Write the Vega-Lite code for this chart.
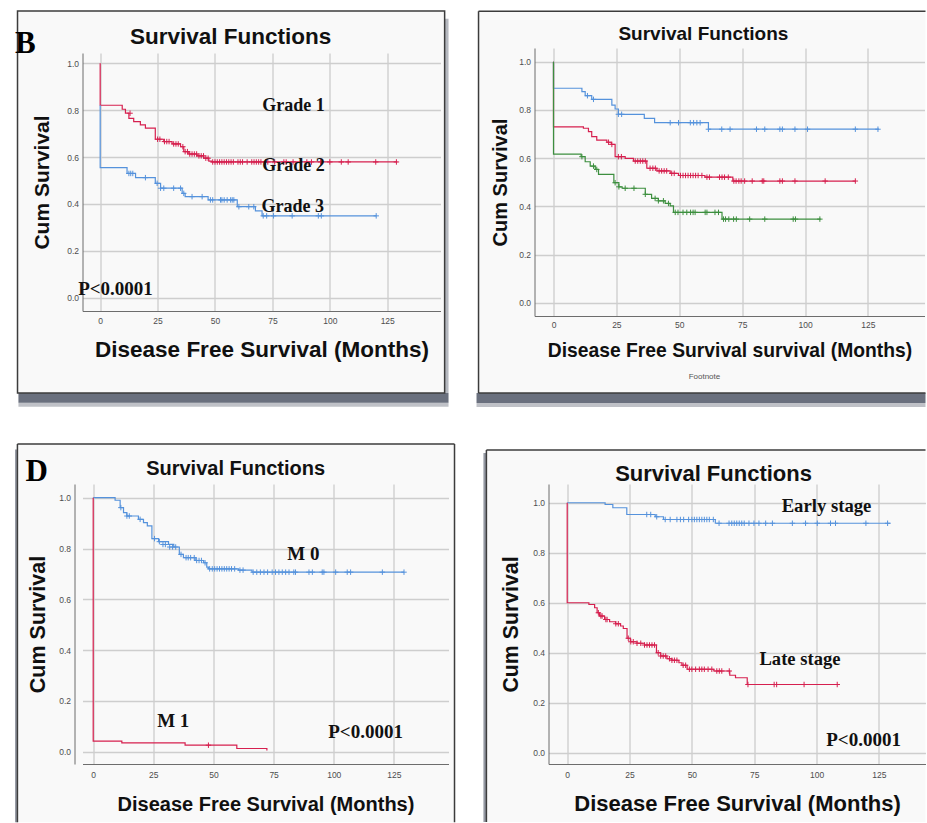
{
"$schema":"https://vega.github.io/schema/vega-lite/v6.json",
"padding":{"left":14.5,"top":10,"right":0,"bottom":0},
"background":"white",
"config":{"view":{"stroke":null},
"axis":{"labelFont":"Liberation Sans","labelFontSize":8.5,"labelColor":"#505050","titleFont":"Liberation Sans","titleFontWeight":"bold","titleColor":"#111111","domainColor":"#707070","domainWidth":1,"grid":true,"gridColor":"#d3d3d3","gridWidth":1.3,"ticks":false,"labelPadding":4,"labelFlush":false}},
"datasets":{
"km":[
{"p":"B","g":"Grade 2","t":0,"s":1},{"p":"B","g":"Grade 2","t":0,"s":0.821},{"p":"B","g":"Grade 2","t":9.6,"s":0.804},{"p":"B","g":"Grade 2","t":11,"s":0.787},{"p":"B","g":"Grade 2","t":12.5,"s":0.765},{"p":"B","g":"Grade 2","t":14.6,"s":0.751},{"p":"B","g":"Grade 2","t":17.5,"s":0.737},{"p":"B","g":"Grade 2","t":19.7,"s":0.723},{"p":"B","g":"Grade 2","t":24,"s":0.676},{"p":"B","g":"Grade 2","t":27.7,"s":0.666},{"p":"B","g":"Grade 2","t":31.3,"s":0.656},{"p":"B","g":"Grade 2","t":35,"s":0.644},{"p":"B","g":"Grade 2","t":36.4,"s":0.623},{"p":"B","g":"Grade 2","t":38.6,"s":0.613},{"p":"B","g":"Grade 2","t":42.2,"s":0.605},{"p":"B","g":"Grade 2","t":45.1,"s":0.595},{"p":"B","g":"Grade 2","t":47.3,"s":0.583},{"p":"B","g":"Grade 2","t":48.5,"s":0.579},{"p":"B","g":"Grade 2","t":129.4,"s":0.579},
{"p":"B","g":"Grade 3","t":0,"s":0.821},{"p":"B","g":"Grade 3","t":0,"s":0.555},{"p":"B","g":"Grade 3","t":11.7,"s":0.53},{"p":"B","g":"Grade 3","t":15.4,"s":0.512},{"p":"B","g":"Grade 3","t":24,"s":0.488},{"p":"B","g":"Grade 3","t":26.3,"s":0.467},{"p":"B","g":"Grade 3","t":35.7,"s":0.445},{"p":"B","g":"Grade 3","t":37,"s":0.431},{"p":"B","g":"Grade 3","t":47,"s":0.417},{"p":"B","g":"Grade 3","t":59.7,"s":0.388},{"p":"B","g":"Grade 3","t":67.6,"s":0.37},{"p":"B","g":"Grade 3","t":70.5,"s":0.349},{"p":"B","g":"Grade 3","t":120.2,"s":0.349},
{"p":"C","g":"Group 1","t":0,"s":1},{"p":"C","g":"Group 1","t":0,"s":0.89},{"p":"C","g":"Group 1","t":11.3,"s":0.876},{"p":"C","g":"Group 1","t":12.6,"s":0.859},{"p":"C","g":"Group 1","t":15.2,"s":0.844},{"p":"C","g":"Group 1","t":23.2,"s":0.82},{"p":"C","g":"Group 1","t":24.5,"s":0.804},{"p":"C","g":"Group 1","t":25.8,"s":0.782},{"p":"C","g":"Group 1","t":36.1,"s":0.765},{"p":"C","g":"Group 1","t":40.2,"s":0.747},{"p":"C","g":"Group 1","t":61.6,"s":0.72},{"p":"C","g":"Group 1","t":129.4,"s":0.72},
{"p":"C","g":"Group 2","t":0,"s":1},{"p":"C","g":"Group 2","t":0,"s":0.73},{"p":"C","g":"Group 2","t":11.9,"s":0.724},{"p":"C","g":"Group 2","t":13.9,"s":0.71},{"p":"C","g":"Group 2","t":15.2,"s":0.689},{"p":"C","g":"Group 2","t":17.2,"s":0.675},{"p":"C","g":"Group 2","t":21.2,"s":0.666},{"p":"C","g":"Group 2","t":23,"s":0.657},{"p":"C","g":"Group 2","t":24.5,"s":0.606},{"p":"C","g":"Group 2","t":28.5,"s":0.599},{"p":"C","g":"Group 2","t":31.8,"s":0.588},{"p":"C","g":"Group 2","t":37.1,"s":0.558},{"p":"C","g":"Group 2","t":41.1,"s":0.547},{"p":"C","g":"Group 2","t":46.4,"s":0.537},{"p":"C","g":"Group 2","t":49.7,"s":0.528},{"p":"C","g":"Group 2","t":60.2,"s":0.521},{"p":"C","g":"Group 2","t":71.3,"s":0.505},{"p":"C","g":"Group 2","t":120,"s":0.505},
{"p":"C","g":"Group 3","t":0,"s":1},{"p":"C","g":"Group 3","t":0,"s":0.617},{"p":"C","g":"Group 3","t":11,"s":0.606},{"p":"C","g":"Group 3","t":12.6,"s":0.585},{"p":"C","g":"Group 3","t":14.6,"s":0.567},{"p":"C","g":"Group 3","t":16.6,"s":0.553},{"p":"C","g":"Group 3","t":17.9,"s":0.533},{"p":"C","g":"Group 3","t":24,"s":0.498},{"p":"C","g":"Group 3","t":26,"s":0.481},{"p":"C","g":"Group 3","t":27.3,"s":0.475},{"p":"C","g":"Group 3","t":36.5,"s":0.45},{"p":"C","g":"Group 3","t":39,"s":0.433},{"p":"C","g":"Group 3","t":41.7,"s":0.423},{"p":"C","g":"Group 3","t":44.4,"s":0.412},{"p":"C","g":"Group 3","t":46.4,"s":0.402},{"p":"C","g":"Group 3","t":47.7,"s":0.375},{"p":"C","g":"Group 3","t":67,"s":0.347},{"p":"C","g":"Group 3","t":106.2,"s":0.347},
{"p":"D","g":"M 0","t":0,"s":1},{"p":"D","g":"M 0","t":9.1,"s":0.99},{"p":"D","g":"M 0","t":11.2,"s":0.961},{"p":"D","g":"M 0","t":12.6,"s":0.941},{"p":"D","g":"M 0","t":14,"s":0.928},{"p":"D","g":"M 0","t":18.8,"s":0.915},{"p":"D","g":"M 0","t":20.9,"s":0.902},{"p":"D","g":"M 0","t":22.5,"s":0.889},{"p":"D","g":"M 0","t":24.4,"s":0.839},{"p":"D","g":"M 0","t":27.2,"s":0.827},{"p":"D","g":"M 0","t":31.3,"s":0.816},{"p":"D","g":"M 0","t":33.5,"s":0.806},{"p":"D","g":"M 0","t":35.8,"s":0.777},{"p":"D","g":"M 0","t":37.5,"s":0.764},{"p":"D","g":"M 0","t":42.4,"s":0.753},{"p":"D","g":"M 0","t":45.9,"s":0.744},{"p":"D","g":"M 0","t":47.2,"s":0.727},{"p":"D","g":"M 0","t":47.9,"s":0.72},{"p":"D","g":"M 0","t":60.4,"s":0.715},{"p":"D","g":"M 0","t":66,"s":0.707},{"p":"D","g":"M 0","t":129.2,"s":0.707},
{"p":"D","g":"M 1","t":0,"s":1},{"p":"D","g":"M 1","t":0,"s":0.042},{"p":"D","g":"M 1","t":11.9,"s":0.035},{"p":"D","g":"M 1","t":38.2,"s":0.026},{"p":"D","g":"M 1","t":59.7,"s":0.013},{"p":"D","g":"M 1","t":72.2,"s":0.005},
{"p":"E","g":"Early stage","t":0,"s":1},{"p":"E","g":"Early stage","t":15.2,"s":0.993},{"p":"E","g":"Early stage","t":18.3,"s":0.98},{"p":"E","g":"Early stage","t":23.9,"s":0.953},{"p":"E","g":"Early stage","t":35.3,"s":0.944},{"p":"E","g":"Early stage","t":38.6,"s":0.933},{"p":"E","g":"Early stage","t":59.4,"s":0.918},{"p":"E","g":"Early stage","t":129.7,"s":0.918},
{"p":"E","g":"Late stage","t":0,"s":1},{"p":"E","g":"Late stage","t":0,"s":0.6},{"p":"E","g":"Late stage","t":8.7,"s":0.593},{"p":"E","g":"Late stage","t":11,"s":0.58},{"p":"E","g":"Late stage","t":12,"s":0.56},{"p":"E","g":"Late stage","t":13,"s":0.547},{"p":"E","g":"Late stage","t":15,"s":0.533},{"p":"E","g":"Late stage","t":17,"s":0.524},{"p":"E","g":"Late stage","t":19.4,"s":0.516},{"p":"E","g":"Late stage","t":21.4,"s":0.507},{"p":"E","g":"Late stage","t":22.5,"s":0.497},{"p":"E","g":"Late stage","t":24,"s":0.458},{"p":"E","g":"Late stage","t":25.4,"s":0.444},{"p":"E","g":"Late stage","t":28,"s":0.438},{"p":"E","g":"Late stage","t":31,"s":0.431},{"p":"E","g":"Late stage","t":35.8,"s":0.4},{"p":"E","g":"Late stage","t":37.5,"s":0.387},{"p":"E","g":"Late stage","t":40,"s":0.376},{"p":"E","g":"Late stage","t":42,"s":0.37},{"p":"E","g":"Late stage","t":44.8,"s":0.36},{"p":"E","g":"Late stage","t":46,"s":0.35},{"p":"E","g":"Late stage","t":48.1,"s":0.334},{"p":"E","g":"Late stage","t":58.8,"s":0.327},{"p":"E","g":"Late stage","t":65.2,"s":0.31},{"p":"E","g":"Late stage","t":67.5,"s":0.3},{"p":"E","g":"Late stage","t":72.2,"s":0.273},{"p":"E","g":"Late stage","t":108.3,"s":0.273}
],
"cens":[
{"p":"B","g":"Grade 2","t":13,"s":0.787},{"p":"B","g":"Grade 2","t":25,"s":0.676},{"p":"B","g":"Grade 2","t":26,"s":0.676},{"p":"B","g":"Grade 2","t":28,"s":0.666},{"p":"B","g":"Grade 2","t":29,"s":0.666},{"p":"B","g":"Grade 2","t":30,"s":0.666},{"p":"B","g":"Grade 2","t":32,"s":0.656},{"p":"B","g":"Grade 2","t":33,"s":0.656},{"p":"B","g":"Grade 2","t":34,"s":0.656},{"p":"B","g":"Grade 2","t":36,"s":0.644},{"p":"B","g":"Grade 2","t":37,"s":0.623},{"p":"B","g":"Grade 2","t":38,"s":0.623},{"p":"B","g":"Grade 2","t":39,"s":0.613},{"p":"B","g":"Grade 2","t":40,"s":0.613},{"p":"B","g":"Grade 2","t":41,"s":0.613},{"p":"B","g":"Grade 2","t":42,"s":0.613},{"p":"B","g":"Grade 2","t":43,"s":0.605},{"p":"B","g":"Grade 2","t":44,"s":0.605},{"p":"B","g":"Grade 2","t":45,"s":0.605},{"p":"B","g":"Grade 2","t":46,"s":0.595},{"p":"B","g":"Grade 2","t":47,"s":0.595},{"p":"B","g":"Grade 2","t":49,"s":0.579},{"p":"B","g":"Grade 2","t":50,"s":0.579},{"p":"B","g":"Grade 2","t":51,"s":0.579},{"p":"B","g":"Grade 2","t":52,"s":0.579},{"p":"B","g":"Grade 2","t":53,"s":0.579},{"p":"B","g":"Grade 2","t":54,"s":0.579},{"p":"B","g":"Grade 2","t":55,"s":0.579},{"p":"B","g":"Grade 2","t":56,"s":0.579},{"p":"B","g":"Grade 2","t":57,"s":0.579},{"p":"B","g":"Grade 2","t":58,"s":0.579},{"p":"B","g":"Grade 2","t":60,"s":0.579},{"p":"B","g":"Grade 2","t":61,"s":0.579},{"p":"B","g":"Grade 2","t":62,"s":0.579},{"p":"B","g":"Grade 2","t":64,"s":0.579},{"p":"B","g":"Grade 2","t":66,"s":0.579},{"p":"B","g":"Grade 2","t":67,"s":0.579},{"p":"B","g":"Grade 2","t":68,"s":0.579},{"p":"B","g":"Grade 2","t":69,"s":0.579},{"p":"B","g":"Grade 2","t":70,"s":0.579},{"p":"B","g":"Grade 2","t":72,"s":0.579},{"p":"B","g":"Grade 2","t":73,"s":0.579},{"p":"B","g":"Grade 2","t":76,"s":0.579},{"p":"B","g":"Grade 2","t":80,"s":0.579},{"p":"B","g":"Grade 2","t":81,"s":0.579},{"p":"B","g":"Grade 2","t":84,"s":0.579},{"p":"B","g":"Grade 2","t":90,"s":0.579},{"p":"B","g":"Grade 2","t":92,"s":0.579},{"p":"B","g":"Grade 2","t":96,"s":0.579},{"p":"B","g":"Grade 2","t":100,"s":0.579},{"p":"B","g":"Grade 2","t":105,"s":0.579},{"p":"B","g":"Grade 2","t":108,"s":0.579},{"p":"B","g":"Grade 2","t":120,"s":0.579},{"p":"B","g":"Grade 2","t":129,"s":0.579},
{"p":"B","g":"Grade 3","t":12.5,"s":0.53},{"p":"B","g":"Grade 3","t":13.3,"s":0.53},{"p":"B","g":"Grade 3","t":14.2,"s":0.53},{"p":"B","g":"Grade 3","t":19.7,"s":0.512},{"p":"B","g":"Grade 3","t":24.8,"s":0.488},{"p":"B","g":"Grade 3","t":26.3,"s":0.467},{"p":"B","g":"Grade 3","t":27.7,"s":0.467},{"p":"B","g":"Grade 3","t":32,"s":0.467},{"p":"B","g":"Grade 3","t":35,"s":0.467},{"p":"B","g":"Grade 3","t":36.4,"s":0.445},{"p":"B","g":"Grade 3","t":40,"s":0.431},{"p":"B","g":"Grade 3","t":44.4,"s":0.431},{"p":"B","g":"Grade 3","t":48,"s":0.417},{"p":"B","g":"Grade 3","t":49,"s":0.417},{"p":"B","g":"Grade 3","t":52.4,"s":0.417},{"p":"B","g":"Grade 3","t":53,"s":0.417},{"p":"B","g":"Grade 3","t":54,"s":0.417},{"p":"B","g":"Grade 3","t":55.3,"s":0.417},{"p":"B","g":"Grade 3","t":56.8,"s":0.417},{"p":"B","g":"Grade 3","t":57.5,"s":0.417},{"p":"B","g":"Grade 3","t":58.2,"s":0.417},{"p":"B","g":"Grade 3","t":60.4,"s":0.388},{"p":"B","g":"Grade 3","t":64.7,"s":0.388},{"p":"B","g":"Grade 3","t":66.9,"s":0.388},{"p":"B","g":"Grade 3","t":71,"s":0.349},{"p":"B","g":"Grade 3","t":72.5,"s":0.349},{"p":"B","g":"Grade 3","t":75.5,"s":0.349},{"p":"B","g":"Grade 3","t":83.6,"s":0.349},{"p":"B","g":"Grade 3","t":95,"s":0.349},{"p":"B","g":"Grade 3","t":96.3,"s":0.349},{"p":"B","g":"Grade 3","t":120.2,"s":0.349},
{"p":"C","g":"Group 1","t":13.5,"s":0.859},{"p":"C","g":"Group 1","t":15.9,"s":0.844},{"p":"C","g":"Group 1","t":25.8,"s":0.782},{"p":"C","g":"Group 1","t":27.1,"s":0.782},{"p":"C","g":"Group 1","t":46.4,"s":0.747},{"p":"C","g":"Group 1","t":49.7,"s":0.747},{"p":"C","g":"Group 1","t":54.4,"s":0.747},{"p":"C","g":"Group 1","t":55.7,"s":0.747},{"p":"C","g":"Group 1","t":57,"s":0.747},{"p":"C","g":"Group 1","t":58.3,"s":0.747},{"p":"C","g":"Group 1","t":61.6,"s":0.72},{"p":"C","g":"Group 1","t":66.9,"s":0.72},{"p":"C","g":"Group 1","t":70.2,"s":0.72},{"p":"C","g":"Group 1","t":80.7,"s":0.72},{"p":"C","g":"Group 1","t":84,"s":0.72},{"p":"C","g":"Group 1","t":90,"s":0.72},{"p":"C","g":"Group 1","t":91,"s":0.72},{"p":"C","g":"Group 1","t":96,"s":0.72},{"p":"C","g":"Group 1","t":101,"s":0.72},{"p":"C","g":"Group 1","t":120,"s":0.72},{"p":"C","g":"Group 1","t":129,"s":0.72},
{"p":"C","g":"Group 2","t":21.9,"s":0.666},{"p":"C","g":"Group 2","t":23.2,"s":0.657},{"p":"C","g":"Group 2","t":25.8,"s":0.606},{"p":"C","g":"Group 2","t":27,"s":0.606},{"p":"C","g":"Group 2","t":32.5,"s":0.588},{"p":"C","g":"Group 2","t":33.5,"s":0.588},{"p":"C","g":"Group 2","t":34.5,"s":0.588},{"p":"C","g":"Group 2","t":35.5,"s":0.588},{"p":"C","g":"Group 2","t":36.5,"s":0.588},{"p":"C","g":"Group 2","t":38.4,"s":0.558},{"p":"C","g":"Group 2","t":39.5,"s":0.558},{"p":"C","g":"Group 2","t":40.5,"s":0.558},{"p":"C","g":"Group 2","t":42,"s":0.547},{"p":"C","g":"Group 2","t":43,"s":0.547},{"p":"C","g":"Group 2","t":44,"s":0.547},{"p":"C","g":"Group 2","t":45,"s":0.547},{"p":"C","g":"Group 2","t":47,"s":0.537},{"p":"C","g":"Group 2","t":48,"s":0.537},{"p":"C","g":"Group 2","t":50.5,"s":0.528},{"p":"C","g":"Group 2","t":51.5,"s":0.528},{"p":"C","g":"Group 2","t":52.5,"s":0.528},{"p":"C","g":"Group 2","t":53.5,"s":0.528},{"p":"C","g":"Group 2","t":54.5,"s":0.528},{"p":"C","g":"Group 2","t":55.5,"s":0.528},{"p":"C","g":"Group 2","t":56.5,"s":0.528},{"p":"C","g":"Group 2","t":57.5,"s":0.528},{"p":"C","g":"Group 2","t":59,"s":0.528},{"p":"C","g":"Group 2","t":61,"s":0.521},{"p":"C","g":"Group 2","t":62,"s":0.521},{"p":"C","g":"Group 2","t":66,"s":0.521},{"p":"C","g":"Group 2","t":67,"s":0.521},{"p":"C","g":"Group 2","t":68,"s":0.521},{"p":"C","g":"Group 2","t":69.5,"s":0.521},{"p":"C","g":"Group 2","t":71.7,"s":0.505},{"p":"C","g":"Group 2","t":72.6,"s":0.505},{"p":"C","g":"Group 2","t":73.7,"s":0.505},{"p":"C","g":"Group 2","t":74.6,"s":0.505},{"p":"C","g":"Group 2","t":76,"s":0.505},{"p":"C","g":"Group 2","t":79,"s":0.505},{"p":"C","g":"Group 2","t":83,"s":0.505},{"p":"C","g":"Group 2","t":83.6,"s":0.505},{"p":"C","g":"Group 2","t":90,"s":0.505},{"p":"C","g":"Group 2","t":91,"s":0.505},{"p":"C","g":"Group 2","t":96,"s":0.505},{"p":"C","g":"Group 2","t":108,"s":0.505},{"p":"C","g":"Group 2","t":120,"s":0.505},
{"p":"C","g":"Group 3","t":11.3,"s":0.606},{"p":"C","g":"Group 3","t":15.9,"s":0.567},{"p":"C","g":"Group 3","t":17.2,"s":0.553},{"p":"C","g":"Group 3","t":24.5,"s":0.498},{"p":"C","g":"Group 3","t":26,"s":0.481},{"p":"C","g":"Group 3","t":28.5,"s":0.475},{"p":"C","g":"Group 3","t":32,"s":0.475},{"p":"C","g":"Group 3","t":36.5,"s":0.45},{"p":"C","g":"Group 3","t":40.4,"s":0.433},{"p":"C","g":"Group 3","t":41.7,"s":0.423},{"p":"C","g":"Group 3","t":43.7,"s":0.423},{"p":"C","g":"Group 3","t":45.7,"s":0.412},{"p":"C","g":"Group 3","t":48.4,"s":0.375},{"p":"C","g":"Group 3","t":49.5,"s":0.375},{"p":"C","g":"Group 3","t":51.5,"s":0.375},{"p":"C","g":"Group 3","t":53,"s":0.375},{"p":"C","g":"Group 3","t":54.5,"s":0.375},{"p":"C","g":"Group 3","t":55.5,"s":0.375},{"p":"C","g":"Group 3","t":56.3,"s":0.375},{"p":"C","g":"Group 3","t":60.3,"s":0.375},{"p":"C","g":"Group 3","t":61,"s":0.375},{"p":"C","g":"Group 3","t":64.2,"s":0.375},{"p":"C","g":"Group 3","t":65.6,"s":0.375},{"p":"C","g":"Group 3","t":67.6,"s":0.347},{"p":"C","g":"Group 3","t":68.4,"s":0.347},{"p":"C","g":"Group 3","t":69.7,"s":0.347},{"p":"C","g":"Group 3","t":71.6,"s":0.347},{"p":"C","g":"Group 3","t":72.7,"s":0.347},{"p":"C","g":"Group 3","t":78,"s":0.347},{"p":"C","g":"Group 3","t":84,"s":0.347},{"p":"C","g":"Group 3","t":95.3,"s":0.347},{"p":"C","g":"Group 3","t":96.2,"s":0.347},{"p":"C","g":"Group 3","t":105.9,"s":0.347},
{"p":"D","g":"M 0","t":11.5,"s":0.961},{"p":"D","g":"M 0","t":14,"s":0.928},{"p":"D","g":"M 0","t":15,"s":0.928},{"p":"D","g":"M 0","t":19.5,"s":0.915},{"p":"D","g":"M 0","t":25.5,"s":0.839},{"p":"D","g":"M 0","t":27.5,"s":0.827},{"p":"D","g":"M 0","t":29,"s":0.816},{"p":"D","g":"M 0","t":30,"s":0.816},{"p":"D","g":"M 0","t":31.8,"s":0.806},{"p":"D","g":"M 0","t":33,"s":0.806},{"p":"D","g":"M 0","t":34.3,"s":0.806},{"p":"D","g":"M 0","t":36.5,"s":0.777},{"p":"D","g":"M 0","t":38.6,"s":0.764},{"p":"D","g":"M 0","t":39.5,"s":0.764},{"p":"D","g":"M 0","t":40.5,"s":0.764},{"p":"D","g":"M 0","t":42,"s":0.764},{"p":"D","g":"M 0","t":43,"s":0.753},{"p":"D","g":"M 0","t":44,"s":0.753},{"p":"D","g":"M 0","t":45,"s":0.753},{"p":"D","g":"M 0","t":46.5,"s":0.744},{"p":"D","g":"M 0","t":48.4,"s":0.72},{"p":"D","g":"M 0","t":49.5,"s":0.72},{"p":"D","g":"M 0","t":50.5,"s":0.72},{"p":"D","g":"M 0","t":51.5,"s":0.72},{"p":"D","g":"M 0","t":52.5,"s":0.72},{"p":"D","g":"M 0","t":53.5,"s":0.72},{"p":"D","g":"M 0","t":54.5,"s":0.72},{"p":"D","g":"M 0","t":55.5,"s":0.72},{"p":"D","g":"M 0","t":56.5,"s":0.72},{"p":"D","g":"M 0","t":57.5,"s":0.72},{"p":"D","g":"M 0","t":58.8,"s":0.72},{"p":"D","g":"M 0","t":61,"s":0.715},{"p":"D","g":"M 0","t":62.3,"s":0.715},{"p":"D","g":"M 0","t":66.5,"s":0.707},{"p":"D","g":"M 0","t":68,"s":0.707},{"p":"D","g":"M 0","t":69.5,"s":0.707},{"p":"D","g":"M 0","t":71,"s":0.707},{"p":"D","g":"M 0","t":72.5,"s":0.707},{"p":"D","g":"M 0","t":74.4,"s":0.707},{"p":"D","g":"M 0","t":75.8,"s":0.707},{"p":"D","g":"M 0","t":77.2,"s":0.707},{"p":"D","g":"M 0","t":78.6,"s":0.707},{"p":"D","g":"M 0","t":80,"s":0.707},{"p":"D","g":"M 0","t":81.4,"s":0.707},{"p":"D","g":"M 0","t":83.4,"s":0.707},{"p":"D","g":"M 0","t":84.1,"s":0.707},{"p":"D","g":"M 0","t":89.7,"s":0.707},{"p":"D","g":"M 0","t":91.1,"s":0.707},{"p":"D","g":"M 0","t":95.2,"s":0.707},{"p":"D","g":"M 0","t":95.9,"s":0.707},{"p":"D","g":"M 0","t":100.8,"s":0.707},{"p":"D","g":"M 0","t":105.6,"s":0.707},{"p":"D","g":"M 0","t":107,"s":0.707},{"p":"D","g":"M 0","t":120.2,"s":0.707},{"p":"D","g":"M 0","t":129.2,"s":0.707},
{"p":"D","g":"M 1","t":47.9,"s":0.026},
{"p":"E","g":"Early stage","t":31.9,"s":0.953},{"p":"E","g":"Early stage","t":33.5,"s":0.953},{"p":"E","g":"Early stage","t":35.9,"s":0.944},{"p":"E","g":"Early stage","t":39.3,"s":0.933},{"p":"E","g":"Early stage","t":41.3,"s":0.933},{"p":"E","g":"Early stage","t":44,"s":0.933},{"p":"E","g":"Early stage","t":45.4,"s":0.933},{"p":"E","g":"Early stage","t":46.7,"s":0.933},{"p":"E","g":"Early stage","t":48.7,"s":0.933},{"p":"E","g":"Early stage","t":50,"s":0.933},{"p":"E","g":"Early stage","t":51,"s":0.933},{"p":"E","g":"Early stage","t":52,"s":0.933},{"p":"E","g":"Early stage","t":53,"s":0.933},{"p":"E","g":"Early stage","t":54,"s":0.933},{"p":"E","g":"Early stage","t":55,"s":0.933},{"p":"E","g":"Early stage","t":56,"s":0.933},{"p":"E","g":"Early stage","t":57,"s":0.933},{"p":"E","g":"Early stage","t":58.6,"s":0.933},{"p":"E","g":"Early stage","t":60.9,"s":0.918},{"p":"E","g":"Early stage","t":64.9,"s":0.918},{"p":"E","g":"Early stage","t":66,"s":0.918},{"p":"E","g":"Early stage","t":67,"s":0.918},{"p":"E","g":"Early stage","t":68,"s":0.918},{"p":"E","g":"Early stage","t":69,"s":0.918},{"p":"E","g":"Early stage","t":70,"s":0.918},{"p":"E","g":"Early stage","t":71,"s":0.918},{"p":"E","g":"Early stage","t":72.9,"s":0.918},{"p":"E","g":"Early stage","t":74.9,"s":0.918},{"p":"E","g":"Early stage","t":76.9,"s":0.918},{"p":"E","g":"Early stage","t":79.6,"s":0.918},{"p":"E","g":"Early stage","t":82.3,"s":0.918},{"p":"E","g":"Early stage","t":90.3,"s":0.918},{"p":"E","g":"Early stage","t":95.6,"s":0.918},{"p":"E","g":"Early stage","t":100.3,"s":0.918},{"p":"E","g":"Early stage","t":105.6,"s":0.918},{"p":"E","g":"Early stage","t":107.6,"s":0.918},{"p":"E","g":"Early stage","t":119.8,"s":0.918},{"p":"E","g":"Early stage","t":128.5,"s":0.918},
{"p":"E","g":"Late stage","t":12.5,"s":0.56},{"p":"E","g":"Late stage","t":13.5,"s":0.547},{"p":"E","g":"Late stage","t":14,"s":0.547},{"p":"E","g":"Late stage","t":15.5,"s":0.533},{"p":"E","g":"Late stage","t":16,"s":0.533},{"p":"E","g":"Late stage","t":19.5,"s":0.516},{"p":"E","g":"Late stage","t":20.5,"s":0.516},{"p":"E","g":"Late stage","t":24.5,"s":0.458},{"p":"E","g":"Late stage","t":25.5,"s":0.444},{"p":"E","g":"Late stage","t":26.5,"s":0.444},{"p":"E","g":"Late stage","t":28,"s":0.438},{"p":"E","g":"Late stage","t":29.5,"s":0.438},{"p":"E","g":"Late stage","t":31,"s":0.431},{"p":"E","g":"Late stage","t":32,"s":0.431},{"p":"E","g":"Late stage","t":33,"s":0.431},{"p":"E","g":"Late stage","t":34,"s":0.431},{"p":"E","g":"Late stage","t":35,"s":0.431},{"p":"E","g":"Late stage","t":36.5,"s":0.4},{"p":"E","g":"Late stage","t":37.5,"s":0.387},{"p":"E","g":"Late stage","t":38.5,"s":0.387},{"p":"E","g":"Late stage","t":39.5,"s":0.387},{"p":"E","g":"Late stage","t":41,"s":0.376},{"p":"E","g":"Late stage","t":42,"s":0.37},{"p":"E","g":"Late stage","t":43,"s":0.37},{"p":"E","g":"Late stage","t":44,"s":0.37},{"p":"E","g":"Late stage","t":46.5,"s":0.35},{"p":"E","g":"Late stage","t":47.5,"s":0.35},{"p":"E","g":"Late stage","t":49,"s":0.334},{"p":"E","g":"Late stage","t":50,"s":0.334},{"p":"E","g":"Late stage","t":51.5,"s":0.334},{"p":"E","g":"Late stage","t":53,"s":0.334},{"p":"E","g":"Late stage","t":54,"s":0.334},{"p":"E","g":"Late stage","t":55,"s":0.334},{"p":"E","g":"Late stage","t":56.5,"s":0.334},{"p":"E","g":"Late stage","t":58,"s":0.334},{"p":"E","g":"Late stage","t":60,"s":0.327},{"p":"E","g":"Late stage","t":61,"s":0.327},{"p":"E","g":"Late stage","t":62,"s":0.327},{"p":"E","g":"Late stage","t":65,"s":0.327},{"p":"E","g":"Late stage","t":72.5,"s":0.273},{"p":"E","g":"Late stage","t":83,"s":0.273},{"p":"E","g":"Late stage","t":84,"s":0.273},{"p":"E","g":"Late stage","t":95,"s":0.273},{"p":"E","g":"Late stage","t":108.3,"s":0.273}
]},
"spacing":35,
"bounds":"full",
"resolve":{"scale":{"x":"independent","y":"independent","color":"independent"}},
"vconcat":[
{"hconcat":[
{"width":358,"height":258,
"layer":[
{"data":{"name":"km"},"transform":[{"filter":"datum.p==='B'"}],"mark":{"type":"line","interpolate":"step-after","strokeWidth":1.2,"opacity":0},"encoding":{
"x":{"field":"t","type":"quantitative","scale":{"domain":[-7.7,148.2],"nice":false,"zero":false},"axis":{"values":[0,25,50,75,100,125],"title":"Disease Free Survival (Months)","titleFontSize":22.5,"titlePadding":14,"labelPadding":5}},
"y":{"field":"s","type":"quantitative","scale":{"domain":[-0.057,1.044],"nice":false,"zero":false},"axis":{"values":[0,0.2,0.4,0.6,0.8,1],"format":".1f","title":"Cum Survival","titleFontSize":21,"titlePadding":14}},
"color":{"field":"g","type":"nominal","scale":{"domain":["Grade 2","Grade 3"],"range":["#d6204f","#5592dc"]},"legend":null},"order":{"value":null}}},
{"data":{"values":[{}]},"mark":{"type":"rect","fill":"#2b3347","opacity":0.7},"encoding":{"x":{"datum":-35.6},"x2":{"datum":151.7},"y":{"datum":-0.407},"y2":{"datum":-0.449}}},
{"data":{"values":[{}]},"mark":{"type":"rect","fill":"#2b3347","opacity":0.3},"encoding":{"x":{"datum":-35.6},"x2":{"datum":151.7},"y":{"datum":-0.449},"y2":{"datum":-0.466}}},
{"data":{"values":[{}]},"mark":{"type":"rect","fill":"#2b3347","opacity":0.35},"encoding":{"x":{"datum":150},"x2":{"datum":151.7},"y":{"datum":1.19},"y2":{"datum":-0.407}}},
{"data":{"values":[{}]},"mark":{"type":"rect","fill":"#000000","fillOpacity":0.022,"stroke":"#3c3c3c","strokeWidth":1.5},"encoding":{"x":{"datum":-36},"x2":{"datum":150},"y":{"datum":1.223},"y2":{"datum":-0.407}}},
{"data":{"values":[{}]},"mark":{"type":"text","text":"Survival Functions","align":"center","baseline":"middle","font":"Liberation Sans","fontWeight":"bold","fontSize":22.5,"color":"#111111"},"encoding":{"x":{"datum":56.8},"y":{"datum":1.112}}},
{"data":{"values":[{}]},"mark":{"type":"text","text":"B","align":"left","baseline":"alphabetic","font":"Liberation Serif","fontWeight":"bold","fontSize":31,"color":"#000000"},"encoding":{"x":{"datum":-37.1},"y":{"datum":1.044}}},
{"data":{"name":"km"},"transform":[{"filter":"datum.p==='B'"}],"mark":{"type":"line","interpolate":"step-after","strokeWidth":1.2},"encoding":{"x":{"field":"t","type":"quantitative"},"y":{"field":"s","type":"quantitative"},"color":{"field":"g","type":"nominal","legend":null},"order":{"value":null}}},
{"data":{"name":"cens"},"transform":[{"filter":"datum.p==='B'"}],"mark":{"type":"point","shape":"M-1,0L1,0M0,-1L0,1","size":30,"strokeWidth":1,"filled":false,"opacity":1},"encoding":{"x":{"field":"t","type":"quantitative"},"y":{"field":"s","type":"quantitative"},"color":{"field":"g","type":"nominal","legend":null}}},
{"data":{"values":[{}]},"mark":{"type":"text","text":"Grade 1","align":"left","baseline":"middle","font":"Liberation Serif","fontWeight":"bold","fontSize":18,"color":"#111111"},"encoding":{"x":{"datum":70.6},"y":{"datum":0.818}}},
{"data":{"values":[{}]},"mark":{"type":"text","text":"Grade 2","align":"left","baseline":"middle","font":"Liberation Serif","fontWeight":"bold","fontSize":18,"color":"#111111"},"encoding":{"x":{"datum":70.6},"y":{"datum":0.563}}},
{"data":{"values":[{}]},"mark":{"type":"text","text":"Grade 3","align":"left","baseline":"middle","font":"Liberation Serif","fontWeight":"bold","fontSize":18,"color":"#111111"},"encoding":{"x":{"datum":70.3},"y":{"datum":0.388}}},
{"data":{"values":[{}]},"mark":{"type":"text","text":"P<0.0001","align":"left","baseline":"middle","font":"Liberation Serif","fontWeight":"bold","fontSize":19,"color":"#111111"},"encoding":{"x":{"datum":-9.6},"y":{"datum":0.036}}}
]},
{"width":390,"height":268,
"layer":[
{"data":{"values":[{}]},"mark":{"type":"rect","fill":"#2b3347","opacity":0.7},"encoding":{"x":{"datum":-30.6},"x2":{"datum":147.9},"y":{"datum":-0.375},"y2":{"datum":-0.416}}},
{"data":{"values":[{}]},"mark":{"type":"rect","fill":"#2b3347","opacity":0.3},"encoding":{"x":{"datum":-30.6},"x2":{"datum":147.9},"y":{"datum":-0.416},"y2":{"datum":-0.433}}},
{"data":{"values":[{}]},"mark":{"type":"rect","fill":"#000000","fillOpacity":0.022},"encoding":{"x":{"datum":-29.8},"x2":{"datum":147.9},"y":{"datum":1.21},"y2":{"datum":-0.375}}},
{"data":{"values":[{}]},"mark":{"type":"rule","color":"#3c3c3c","strokeWidth":1.5},"encoding":{"x":{"datum":-29.8},"y":{"datum":1.21},"y2":{"datum":-0.375}}},
{"data":{"values":[{}]},"mark":{"type":"rule","color":"#3c3c3c","strokeWidth":1.5},"encoding":{"x":{"datum":-29.8},"x2":{"datum":147.9},"y":{"datum":1.21}}},
{"data":{"values":[{}]},"mark":{"type":"rule","color":"#3c3c3c","strokeWidth":1.5},"encoding":{"x":{"datum":-29.8},"x2":{"datum":147.9},"y":{"datum":-0.375}}},
{"data":{"values":[{}]},"mark":{"type":"text","text":"Survival Functions","align":"center","baseline":"middle","font":"Liberation Sans","fontWeight":"bold","fontSize":19,"color":"#111111"},"encoding":{"x":{"datum":59.6},"y":{"datum":1.115}}},
{"data":{"values":[{}]},"mark":{"type":"text","text":"Footnote","align":"center","baseline":"middle","font":"Liberation Sans","fontSize":8,"color":"#555555"},"encoding":{"x":{"datum":60},"y":{"datum":-0.308}}},
{"data":{"name":"km"},"transform":[{"filter":"datum.p==='C'"}],"mark":{"type":"line","interpolate":"step-after","strokeWidth":1.2},"encoding":{
"x":{"field":"t","type":"quantitative","scale":{"domain":[-7.55,147.5],"nice":false,"zero":false},"axis":{"values":[0,25,50,75,100,125],"title":"Disease Free Survival survival (Months)","titleFontSize":19.3,"titlePadding":13.2,"labelPadding":4}},
"y":{"field":"s","type":"quantitative","scale":{"domain":[-0.055,1.057],"nice":false,"zero":false},"axis":{"values":[0,0.2,0.4,0.6,0.8,1],"format":".1f","title":"Cum Survival","titleFontSize":20,"titlePadding":8.5}},
"color":{"field":"g","type":"nominal","scale":{"domain":["Group 1","Group 2","Group 3"],"range":["#5592dc","#d6204f","#3d8f3f"]},"legend":null},"order":{"value":null}}},
{"data":{"name":"cens"},"transform":[{"filter":"datum.p==='C'"}],"mark":{"type":"point","shape":"M-1,0L1,0M0,-1L0,1","size":30,"strokeWidth":1,"filled":false,"opacity":1},"encoding":{"x":{"field":"t","type":"quantitative"},"y":{"field":"s","type":"quantitative"},"color":{"field":"g","type":"nominal","legend":null}}}
]}
],"spacing":94,"bounds":"flush","center":true,"resolve":{"scale":{"x":"independent","y":"independent","color":"independent"}}},
{"hconcat":[
{"width":366,"height":280,
"layer":[
{"data":{"name":"km"},"transform":[{"filter":"datum.p==='D'"}],"mark":{"type":"line","interpolate":"step-after","strokeWidth":1.2,"opacity":0},"encoding":{
"x":{"field":"t","type":"quantitative","scale":{"domain":[-4.45,147.7],"nice":false,"zero":false},"axis":{"values":[0,25,50,75,100,125],"title":"Disease Free Survival (Months)","titleFontSize":20,"titlePadding":15.6,"labelPadding":6}},
"y":{"field":"s","type":"quantitative","scale":{"domain":[-0.048,1.054],"nice":false,"zero":false},"axis":{"values":[0,0.2,0.4,0.6,0.8,1],"format":".1f","title":"Cum Survival","titleFontSize":21.5,"titlePadding":9.5,"offset":8}},
"color":{"field":"g","type":"nominal","scale":{"domain":["M 0","M 1"],"range":["#5592dc","#d6204f"]},"legend":null},"order":{"value":null}}},
{"data":{"values":[{}]},"mark":{"type":"rect","fill":"#2b3347","opacity":0.5},"encoding":{"x":{"datum":-32.5},"x2":{"datum":-31.5},"y":{"datum":1.19},"y2":{"datum":-0.277}}},
{"data":{"values":[{}]},"mark":{"type":"rect","fill":"#000000","fillOpacity":0.022},"encoding":{"x":{"datum":-31.5},"x2":{"datum":150.2},"y":{"datum":1.211},"y2":{"datum":-0.277}}},
{"data":{"values":[{}]},"mark":{"type":"rule","color":"#3c3c3c","strokeWidth":1.5},"encoding":{"x":{"datum":-31.5},"y":{"datum":1.211},"y2":{"datum":-0.277}}},
{"data":{"values":[{}]},"mark":{"type":"rule","color":"#3c3c3c","strokeWidth":1.5},"encoding":{"x":{"datum":-31.5},"x2":{"datum":150.2},"y":{"datum":1.211}}},
{"data":{"values":[{}]},"mark":{"type":"rule","color":"#3c3c3c","strokeWidth":1.5},"encoding":{"x":{"datum":150.2},"y":{"datum":1.211},"y2":{"datum":-0.277}}},
{"data":{"values":[{}]},"mark":{"type":"text","text":"Survival Functions","align":"center","baseline":"middle","font":"Liberation Sans","fontWeight":"bold","fontSize":20,"color":"#111111"},"encoding":{"x":{"datum":59.2},"y":{"datum":1.113}}},
{"data":{"values":[{}]},"mark":{"type":"text","text":"D","align":"left","baseline":"alphabetic","font":"Liberation Serif","fontWeight":"bold","fontSize":31,"color":"#000000"},"encoding":{"x":{"datum":-28.1},"y":{"datum":1.066}}},
{"data":{"name":"km"},"transform":[{"filter":"datum.p==='D'"}],"mark":{"type":"line","interpolate":"step-after","strokeWidth":1.2},"encoding":{"x":{"field":"t","type":"quantitative"},"y":{"field":"s","type":"quantitative"},"color":{"field":"g","type":"nominal","legend":null},"order":{"value":null}}},
{"data":{"name":"cens"},"transform":[{"filter":"datum.p==='D'"}],"mark":{"type":"point","shape":"M-1,0L1,0M0,-1L0,1","size":30,"strokeWidth":1,"filled":false,"opacity":1},"encoding":{"x":{"field":"t","type":"quantitative"},"y":{"field":"s","type":"quantitative"},"color":{"field":"g","type":"nominal","legend":null}}},
{"data":{"values":[{}]},"mark":{"type":"text","text":"M 0","align":"left","baseline":"middle","font":"Liberation Serif","fontWeight":"bold","fontSize":19,"color":"#111111"},"encoding":{"x":{"datum":80.7},"y":{"datum":0.78}}},
{"data":{"values":[{}]},"mark":{"type":"text","text":"M 1","align":"left","baseline":"middle","font":"Liberation Serif","fontWeight":"bold","fontSize":19,"color":"#111111"},"encoding":{"x":{"datum":26.6},"y":{"datum":0.121}}},
{"data":{"values":[{}]},"mark":{"type":"text","text":"P<0.0001","align":"left","baseline":"middle","font":"Liberation Serif","fontWeight":"bold","fontSize":19,"color":"#111111"},"encoding":{"x":{"datum":97.7},"y":{"datum":0.079}}}
]},
{"width":377,"height":280,
"layer":[
{"data":{"name":"km"},"transform":[{"filter":"datum.p==='E'"}],"mark":{"type":"line","interpolate":"step-after","strokeWidth":1.2,"opacity":0},"encoding":{
"x":{"field":"t","type":"quantitative","scale":{"domain":[-7.5,143.7],"nice":false,"zero":false},"axis":{"values":[0,25,50,75,100,125],"title":"Disease Free Survival (Months)","titleFontSize":22,"titlePadding":14.7,"labelPadding":6}},
"y":{"field":"s","type":"quantitative","scale":{"domain":[-0.045,1.075],"nice":false,"zero":false},"axis":{"values":[0,0.2,0.4,0.6,0.8,1],"format":".1f","title":"Cum Survival","titleFontSize":21.3,"titlePadding":11}},
"color":{"field":"g","type":"nominal","scale":{"domain":["Early stage","Late stage"],"range":["#5592dc","#d6204f"]},"legend":null},"order":{"value":null}}},
{"data":{"values":[{}]},"mark":{"type":"rect","fill":"#2b3347","opacity":0.5},"encoding":{"x":{"datum":-33.6},"x2":{"datum":-32.4},"y":{"datum":1.199},"y2":{"datum":-0.277}}},
{"data":{"values":[{}]},"mark":{"type":"rect","fill":"#000000","fillOpacity":0.022},"encoding":{"x":{"datum":-32.4},"x2":{"datum":143.7},"y":{"datum":1.211},"y2":{"datum":-0.277}}},
{"data":{"values":[{}]},"mark":{"type":"rule","color":"#3c3c3c","strokeWidth":1.5},"encoding":{"x":{"datum":-32.4},"y":{"datum":1.211},"y2":{"datum":-0.277}}},
{"data":{"values":[{}]},"mark":{"type":"rule","color":"#3c3c3c","strokeWidth":1.5},"encoding":{"x":{"datum":-32.4},"x2":{"datum":143.7},"y":{"datum":1.211}}},
{"data":{"values":[{}]},"mark":{"type":"text","text":"Survival Functions","align":"center","baseline":"middle","font":"Liberation Sans","fontWeight":"bold","fontSize":22,"color":"#111111"},"encoding":{"x":{"datum":58.7},"y":{"datum":1.115}}},
{"data":{"name":"km"},"transform":[{"filter":"datum.p==='E'"}],"mark":{"type":"line","interpolate":"step-after","strokeWidth":1.2},"encoding":{"x":{"field":"t","type":"quantitative"},"y":{"field":"s","type":"quantitative"},"color":{"field":"g","type":"nominal","legend":null},"order":{"value":null}}},
{"data":{"name":"cens"},"transform":[{"filter":"datum.p==='E'"}],"mark":{"type":"point","shape":"M-1,0L1,0M0,-1L0,1","size":30,"strokeWidth":1,"filled":false,"opacity":1},"encoding":{"x":{"field":"t","type":"quantitative"},"y":{"field":"s","type":"quantitative"},"color":{"field":"g","type":"nominal","legend":null}}},
{"data":{"values":[{}]},"mark":{"type":"text","text":"Early stage","align":"left","baseline":"middle","font":"Liberation Serif","fontWeight":"bold","fontSize":18.7,"color":"#111111"},"encoding":{"x":{"datum":86},"y":{"datum":0.987}}},
{"data":{"values":[{}]},"mark":{"type":"text","text":"Late stage","align":"left","baseline":"middle","font":"Liberation Serif","fontWeight":"bold","fontSize":18.6,"color":"#111111"},"encoding":{"x":{"datum":77.1},"y":{"datum":0.374}}},
{"data":{"values":[{}]},"mark":{"type":"text","text":"P<0.0001","align":"left","baseline":"middle","font":"Liberation Serif","fontWeight":"bold","fontSize":19,"color":"#111111"},"encoding":{"x":{"datum":103.9},"y":{"datum":0.05}}}
]}
],"spacing":100,"bounds":"flush","center":true,"resolve":{"scale":{"x":"independent","y":"independent","color":"independent"}}}
]}
